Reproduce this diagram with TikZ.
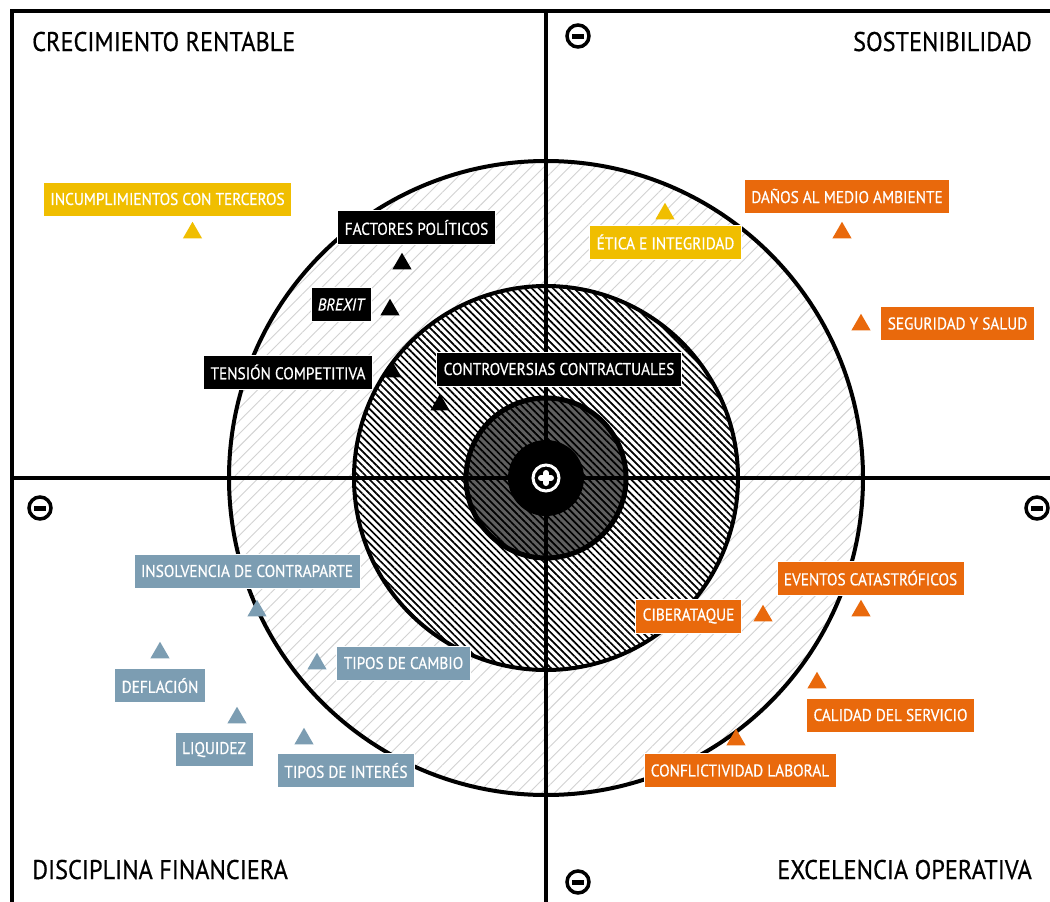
\documentclass[tikz,border=0pt]{standalone}
\usepackage{fontspec}
\setmainfont{PT Sans}[FakeStretch=0.9,FakeBold=0.6]
\usetikzlibrary{patterns.meta,shapes.geometric}

\definecolor{riskyellow}{RGB}{240,190,0}
\definecolor{riskorange}{RGB}{233,105,12}
\definecolor{riskblue}{RGB}{124,157,178}
\definecolor{coregray}{RGB}{95,95,95}

\tikzset{
	risk/.style={fill=#1,draw=white,line width=0.6pt,text=white,inner xsep=7pt,inner ysep=0pt,minimum height=34pt,font=\fontsize{17}{17}\selectfont},
	riskmark/.style={regular polygon,regular polygon sides=3,fill=#1,inner sep=0pt,minimum size=22pt},
	quadrant/.style={font=\fontsize{27}{27}\selectfont,inner sep=0pt},
	minuscircle/.style={line width=3.5pt},
	minusbar/.style={line width=5pt}
}

\begin{document}
\begin{tikzpicture}[x=1pt,y=-1pt]
	\useasboundingbox (0,0) rectangle (1050,902);
	\fill [white] (0,0) rectangle (1050,902);
	\coordinate (c) at (546,478);

	\fill [white] (c) circle (317);
	\fill [pattern={Lines[angle=45,distance=9pt,line width=0.9pt]},pattern color=gray!35] (c) circle (317);
	\draw [line width=4pt] (c) circle (317);
	\fill [white] (c) circle (192);
	\fill [pattern={Lines[angle=-45,distance=5pt,line width=1.7pt]},pattern color=black] (c) circle (192);
	\draw [line width=4pt] (c) circle (192);
	\fill [coregray] (c) circle (80);
	\fill [pattern={Lines[angle=-45,distance=5pt,line width=1.7pt]},pattern color=black] (c) circle (80);
	\draw [line width=5pt] (c) circle (80);

	\draw [line width=4pt] (12,902) -- (12,11) -- (1050,11);
	\draw [line width=3.5pt] (12,478) -- (1050,478);
	\draw [line width=3.5pt] (546,11) -- (546,902);

	\fill (c) circle (38);
	\draw [white,line width=3pt] (c) circle (13);
	\draw [white,line width=6pt,line cap=round] (541,478) -- (551,478);
	\draw [white,line width=6pt,line cap=round] (546,473) -- (546,483);

	\foreach \px/\py in {578/36,40/508,1037/508,578/882}
	{
		\draw [minuscircle] (\px,\py) circle (11);
		\draw [minusbar] (\px-6,\py) -- (\px+6,\py);
	}

	\node [quadrant,anchor=base west] (qcrec) at (32,51) {CRECIMIENTO RENTABLE};
	\node [quadrant,anchor=base east] (qsost) at (1032,51) {SOSTENIBILIDAD};
	\node [quadrant,anchor=base west] (qdisc) at (32,879) {DISCIPLINA FINANCIERA};
	\node [quadrant,anchor=base east] (qexce) at (1032,879) {EXCELENCIA OPERATIVA};

	\node [risk=riskyellow] (incum) at (167.5,199) {INCUMPLIMIENTOS CON TERCEROS};
	\node [riskmark=riskyellow] (tincum) at (192.5,232.75) {};
	\node [risk=riskyellow] (etica) at (665.5,242) {ÉTICA E INTEGRIDAD};
	\node [riskmark=riskyellow] (tetica) at (665,213.75) {};

	\node [risk=black] (factores) at (416.5,227.5) {FACTORES POLÍTICOS};
	\node [riskmark=black] (tfactores) at (402,263.75) {};
	\node [risk=black] (brexit) at (341,304.5) {\itshape BREXIT};
	\node [riskmark=black] (tbrexit) at (390,309.75) {};
	\node [risk=black] (tension) at (288,372) {TENSIÓN COMPETITIVA};
	\node [riskmark=black] (ttension) at (392,371.75) {};
	\node [risk=black] (controv) at (559,369) {CONTROVERSIAS CONTRACTUALES};
	\node [riskmark=black] (tcontrov) at (440,404.75) {};

	\node [risk=riskorange] (danos) at (847,196) {DAÑOS AL MEDIO AMBIENTE};
	\node [riskmark=riskorange] (tdanos) at (842,232.75) {};
	\node [risk=riskorange] (seguridad) at (957.5,323.5) {SEGURIDAD Y SALUD};
	\node [riskmark=riskorange] (tseguridad) at (861,324.75) {};
	\node [risk=riskorange] (eventos) at (870.5,578) {EVENTOS CATASTRÓFICOS};
	\node [riskmark=riskorange] (teventos) at (861,610.75) {};
	\node [risk=riskorange] (ciber) at (688.5,616) {CIBERATAQUE};
	\node [riskmark=riskorange] (tciber) at (763,615.75) {};
	\node [risk=riskorange] (calidad) at (890.5,715) {CALIDAD DEL SERVICIO};
	\node [riskmark=riskorange] (tcalidad) at (817,682.75) {};
	\node [risk=riskorange] (conflict) at (740,770.5) {CONFLICTIVIDAD LABORAL};
	\node [riskmark=riskorange] (tconflict) at (736,739.75) {};

	\node [risk=riskblue] (insolv) at (247,571) {INSOLVENCIA DE CONTRAPARTE};
	\node [riskmark=riskblue] (tinsolv) at (257,610.75) {};
	\node [risk=riskblue] (deflacion) at (160,685.5) {DEFLACIÓN};
	\node [riskmark=riskblue] (tdeflacion) at (160,652.75) {};
	\node [risk=riskblue] (cambio) at (403.5,663) {TIPOS DE CAMBIO};
	\node [riskmark=riskblue] (tcambio) at (317,663.75) {};
	\node [risk=riskblue] (liquidez) at (214,749.5) {LIQUIDEZ};
	\node [riskmark=riskblue] (tliquidez) at (237,717.75) {};
	\node [risk=riskblue] (interes) at (346,770.5) {TIPOS DE INTERÉS};
	\node [riskmark=riskblue] (tinteres) at (304,738.75) {};
\end{tikzpicture}
\end{document}
